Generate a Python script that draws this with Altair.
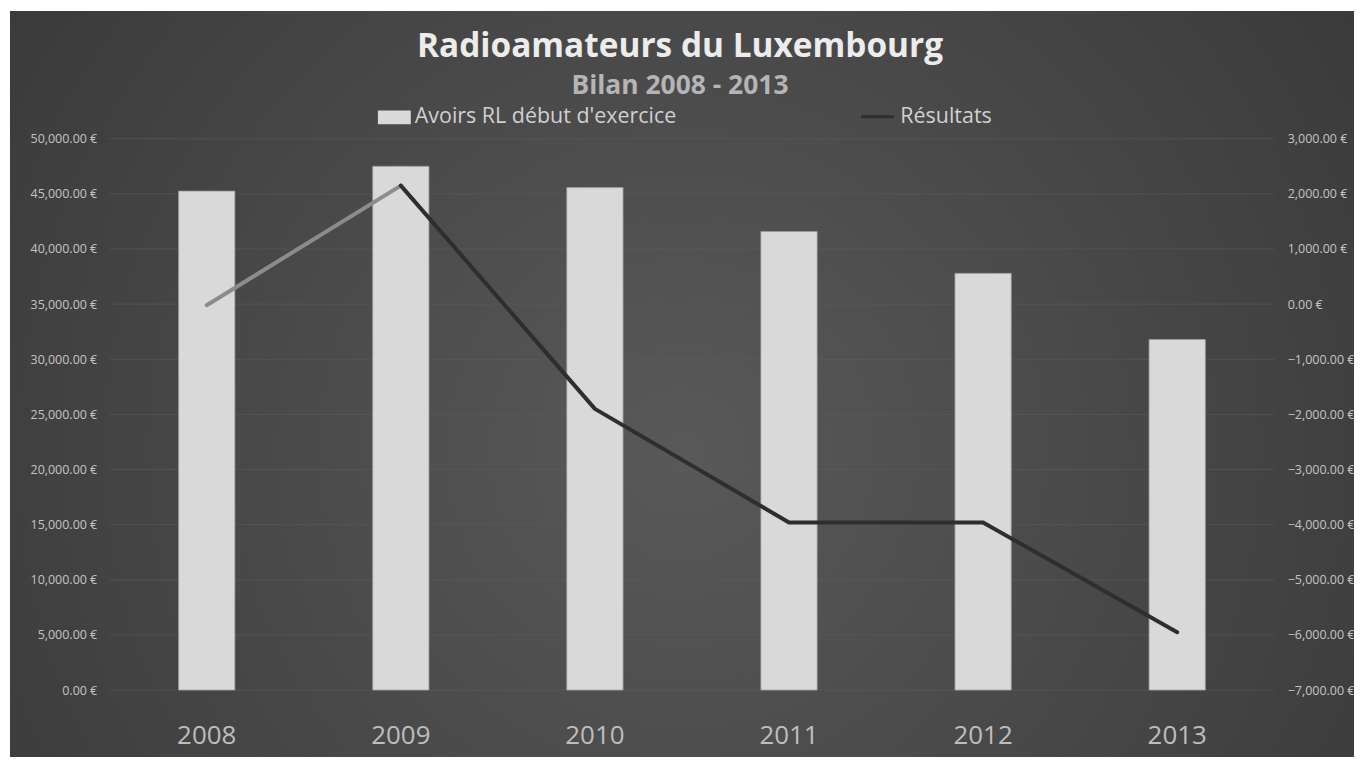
import altair as alt
import pandas as pd

# ---- data ----
years = ["2008", "2009", "2010", "2011", "2012", "2013"]
avoirs = [45250, 47500, 45570, 41590, 37790, 31800]
resultats = [-20, 2150, -1900, -3960, -3960, -5950]
left_ticks = [0, 5000, 10000, 15000, 20000, 25000, 30000, 35000, 40000, 45000, 50000]
right_ticks = [-7000, -6000, -5000, -4000, -3000, -2000, -1000, 0, 1000, 2000, 3000]
bar_series = "Avoirs RL début d'exercice"
line_series = "Résultats"
title_text = "Radioamateurs du Luxembourg"
subtitle_text = "Bilan 2008 - 2013"

df = pd.DataFrame({
    "annee": years,
    "avoirs": avoirs,
    "resultat": resultats,
    "serie_bar": [bar_series] * len(years),
    "serie_line": [line_series] * len(years),
})
grid_df = pd.DataFrame({"v": left_ticks})
bg_df = pd.DataFrame({"k": [0]})

FONT = "Open Sans"
W, H = 1168, 553

x_enc = alt.X(
    "annee:N",
    sort=years,
    scale=alt.Scale(paddingInner=0, paddingOuter=0),
    axis=alt.Axis(title=None, orient="bottom", domain=False, ticks=False, grid=False,
                  labelFont=FONT, labelFontSize=26, labelColor="#bdbdbd",
                  labelPadding=33, labelAngle=0, zindex=1),
)

background = alt.Chart(bg_df).mark_rect(
    fill={
        "gradient": "radial",
        "stops": [
            {"offset": 0, "color": "#595959"},
            {"offset": 1, "color": "#262626"},
        ],
        "x1": 0.5, "y1": 0.55, "r1": 0,
        "x2": 0.5, "y2": 0.55, "r2": 1.0,
    }
).encode(
    x=alt.value(-100), x2=alt.value(1248), y=alt.value(-128), y2=alt.value(620)
)

grid = alt.Chart(grid_df).mark_rule(color="#5e5e5e", strokeWidth=1, opacity=0.55).encode(
    y=alt.Y("v:Q", scale=alt.Scale(domain=[0, 50000], nice=False), axis=None)
)

bars = alt.Chart(df).mark_bar(
    width=alt.RelativeBandSize(0.29), stroke="#9a9a9a", strokeWidth=0.8
).encode(
    x=x_enc,
    y=alt.Y(
        "avoirs:Q",
        scale=alt.Scale(domain=[0, 50000], nice=False),
        axis=alt.Axis(title=None, orient="left", values=left_ticks,
                      labelExpr="format(datum.value, ',.2f') + ' €'",
                      domain=False, ticks=False, grid=False,
                      labelFont=FONT, labelFontSize=12.5, labelColor="#c4c4c4",
                      labelPadding=13, zindex=1),
    ),
    fill=alt.Fill(
        "serie_bar:N",
        scale=alt.Scale(domain=[bar_series], range=["#d9d9d9"]),
        legend=alt.Legend(title=None, orient="none", legendX=269, legendY=-38,
                          symbolType="M-1,-0.42H1V0.42H-1Z", symbolSize=1089,
                          symbolStrokeWidth=0, labelFont=FONT, labelFontSize=21.5,
                          labelColor="#d0d0d0", labelOffset=4, padding=0,
                          labelLimit=500),
    ),
)

line_gray = alt.Chart(df).transform_filter(
    alt.FieldOneOfPredicate(field="annee", oneOf=years[:2])
).mark_line(color="#8c8c8c", strokeWidth=4, strokeCap="round").encode(
    x=x_enc,
    y=alt.Y("resultat:Q", scale=alt.Scale(domain=[-7000, 3000], nice=False), axis=None),
)

line_dark = alt.Chart(df).transform_filter(
    alt.FieldOneOfPredicate(field="annee", oneOf=years[1:])
).mark_line(strokeWidth=4, strokeCap="round", strokeJoin="round").encode(
    x=x_enc,
    y=alt.Y(
        "resultat:Q",
        scale=alt.Scale(domain=[-7000, 3000], nice=False),
        axis=alt.Axis(title=None, orient="right", values=right_ticks,
                      labelExpr="format(datum.value, ',.2f') + ' €'",
                      domain=False, ticks=False, grid=False,
                      labelFont=FONT, labelFontSize=12.5, labelColor="#c4c4c4",
                      labelPadding=13, zindex=1),
    ),
    stroke=alt.Stroke(
        "serie_line:N",
        scale=alt.Scale(domain=[line_series], range=["#2e2e2e"]),
        legend=alt.Legend(title=None, orient="none", legendX=752, legendY=-40,
                          symbolType="stroke", symbolSize=1089,
                          symbolStrokeWidth=3, labelFont=FONT, labelFontSize=21.5,
                          labelColor="#d0d0d0", labelOffset=5, padding=0,
                          labelLimit=500),
    ),
)

chart = alt.layer(background, grid, bars, line_gray, line_dark).resolve_scale(
    y="independent"
).properties(
    width=W,
    height=H,
    title=alt.TitleParams(
        text=title_text, subtitle=subtitle_text,
        font=FONT, fontSize=33.5, fontWeight="bold", color="#ececec",
        subtitleFont=FONT, subtitleFontSize=26.5, subtitleFontWeight="bold",
        subtitleColor="#b5b5b5", subtitlePadding=9,
        anchor="middle", frame="group", dx=-12, offset=-90,
    ),
    autosize=alt.AutoSizeParams(type="none"),
    padding={"left": 102, "top": 130, "right": 80, "bottom": 67},
    background="white",
).configure_view(stroke=None)

chart.save("out.html", embed_options={"renderer": "svg", "actions": False})
